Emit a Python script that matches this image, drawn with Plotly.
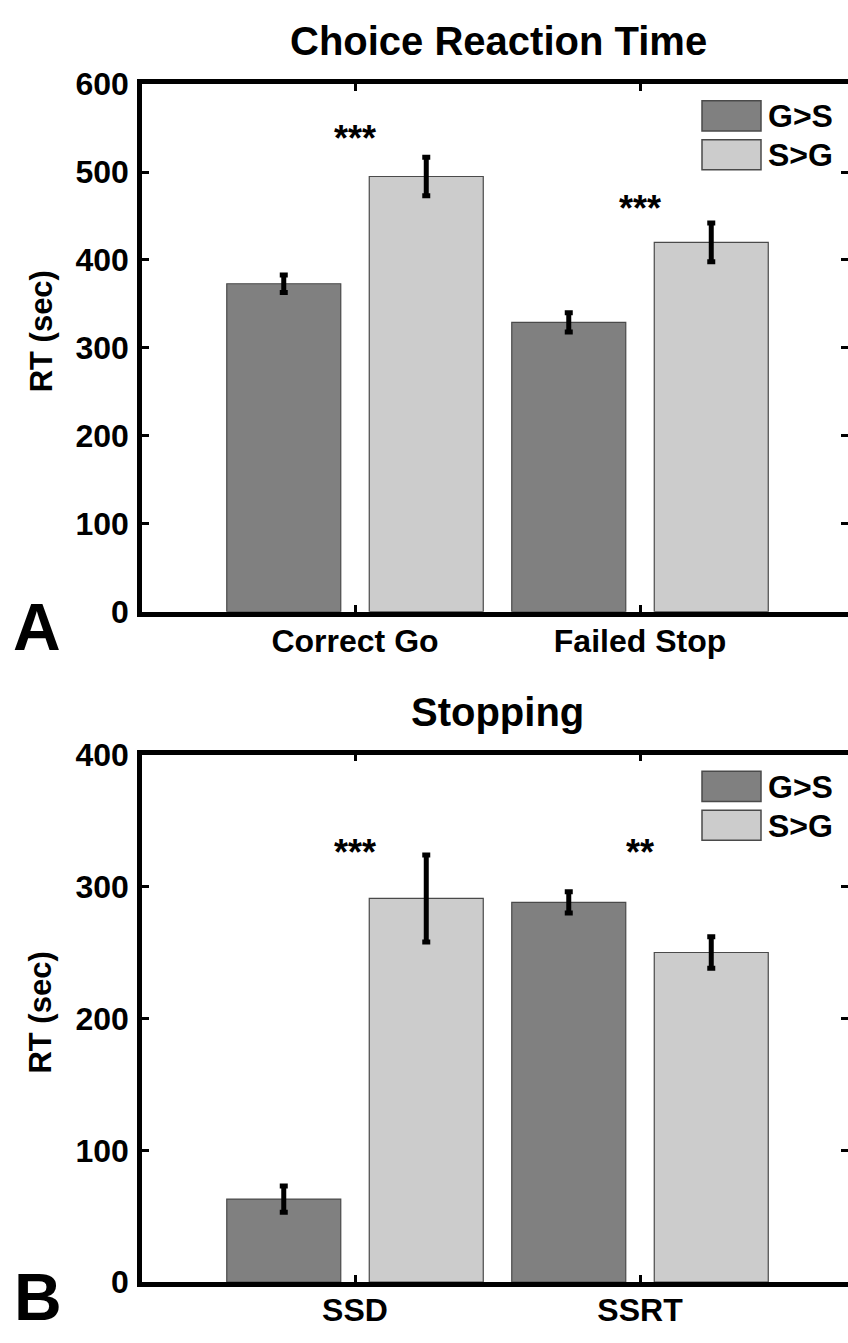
import plotly.graph_objects as go

# ---- data ----
cats_a = ["Correct Go", "Failed Stop"]
gs_a = [373, 329]
gs_a_err = [10, 11]
sg_a = [495, 420]
sg_a_err = [22, 22]
stars_a = ["***", "***"]
stars_a_y = [538, 459]
yticks_a = [0, 100, 200, 300, 400, 500, 600]

cats_b = ["SSD", "SSRT"]
gs_b = [63, 288]
gs_b_err = [10, 8]
sg_b = [291, 250]
sg_b_err = [33, 12]
stars_b = ["***", "**"]
stars_b_y = [326, 326]
yticks_b = [0, 100, 200, 300, 400]

series_names = ["G>S", "S>G"]
colors = ["#808080", "#cccccc"]

W, H = 848, 1343
FONT = "Liberation Sans"
L = 142
A_top, A_bot = 68, 610
B_top, B_bot = 757, 1299


def py(px):
    return 1 - px / H


fig = go.Figure()

xpos = [1, 2]


def add_panel(xa, ya, ya_right, gs, gse, sg, sge):
    for vals, errs, col, off in [(gs, gse, colors[0], -0.45), (sg, sge, colors[1], 0.05)]:
        fig.add_trace(go.Bar(
            x=xpos, y=vals, width=0.4, offset=off,
            marker=dict(color=col, line=dict(color="#4a4a4a", width=1.2)),
            error_y=dict(type="data", array=errs, visible=True, color="black",
                         thickness=5, width=4),
            xaxis=xa, yaxis=ya, showlegend=False,
        ))
    # invisible helper trace so the right-hand (tick-only) axis is drawn
    fig.add_trace(go.Scatter(x=xpos, y=gs, xaxis=xa, yaxis=ya_right, mode="markers",
                             marker=dict(opacity=0), hoverinfo="skip", showlegend=False))


add_panel("x", "y", "y3", gs_a, gs_a_err, sg_a, sg_a_err)
add_panel("x2", "y2", "y4", gs_b, gs_b_err, sg_b, sg_b_err)

xrange_ = [0.2526, 0.2526 + (W - L) / 285.0]

ax_common = dict(showline=True, linecolor="black", linewidth=4.5, ticks="inside",
                 ticklen=7, tickwidth=3, tickcolor="black", showgrid=False,
                 zeroline=False, tickfont=dict(family=FONT, size=32, color="black", weight="bold"))

xdom = [L / W, 1]

fig.update_layout(
    width=W, height=H,
    margin=dict(l=0, r=0, t=0, b=0),
    plot_bgcolor="white", paper_bgcolor="white",
    barmode="overlay",
    showlegend=False,
    xaxis=dict(ax_common, domain=xdom, anchor="y", range=xrange_, tickvals=xpos,
               ticktext=cats_a, mirror="ticks", ticklabelstandoff=-3),
    yaxis=dict(ax_common, domain=[py(A_bot), py(A_top)], anchor="x", range=[0, 600],
               tickvals=yticks_a, ticklabelstandoff=2),
    yaxis3=dict(ax_common, overlaying="y", side="right", anchor="x", range=[0, 600],
                tickvals=yticks_a, showticklabels=False, showline=False),
    xaxis2=dict(ax_common, domain=xdom, anchor="y2", range=xrange_, tickvals=xpos,
                ticktext=cats_b, mirror="ticks", ticklabelstandoff=-4),
    yaxis2=dict(ax_common, domain=[py(B_bot), py(B_top)], anchor="x2", range=[0, 400],
                tickvals=yticks_b, ticklabelstandoff=2),
    yaxis4=dict(ax_common, overlaying="y2", side="right", anchor="x2", range=[0, 400],
                tickvals=yticks_b, showticklabels=False, showline=False),
)

bold = dict(family=FONT, color="black", weight="bold")

# significance stars
for xa, ya, labels, ys in [("x", "y", stars_a, stars_a_y), ("x2", "y2", stars_b, stars_b_y)]:
    for xv, lab, yv in zip(xpos, labels, ys):
        fig.add_annotation(x=xv, y=yv, xref=xa, yref=ya, text=lab, showarrow=False,
                           font=dict(bold, size=36), xanchor="center", yanchor="middle")


# titles, panel letters, axis titles
def note(xp, yp, text, size, angle=0):
    fig.add_annotation(x=xp / W, y=py(yp), xref="paper", yref="paper", text=text,
                       showarrow=False, font=dict(bold, size=size), textangle=angle,
                       xanchor="center", yanchor="middle")


note(498, 24, "Choice Reaction Time", 40)
note(497, 713, "Stopping", 40)
note(37, 626, "A", 66)
note(38, 1314, "B", 66)
note(41, 322, "RT (sec)", 31, -90)
note(41, 1022, "RT (sec)", 31, -90)

# legends (drawn as patches + labels)
for top in (A_top, B_top):
    for i, (name, col) in enumerate(zip(series_names, colors)):
        y0 = top + 17 + i * 40
        fig.add_shape(type="rect", xref="paper", yref="paper",
                      x0=702 / W, x1=761 / W, y0=py(y0), y1=py(y0 + 31),
                      fillcolor=col, line=dict(color="#4a4a4a", width=1.5))
        fig.add_annotation(x=766 / W, y=py(y0 + 16), xref="paper", yref="paper", text=name,
                           showarrow=False, xanchor="left", yanchor="middle",
                           font=dict(bold, size=32))

fig.write_html("out.html")
